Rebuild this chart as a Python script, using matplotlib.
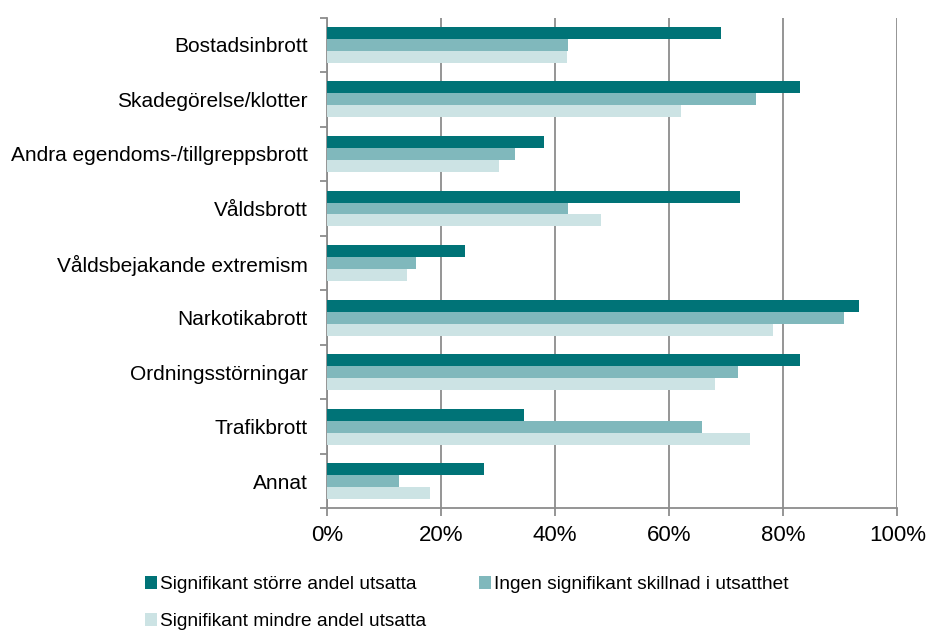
import numpy as np
import matplotlib.pyplot as plt
from matplotlib.patches import Patch
from matplotlib.ticker import FixedLocator, PercentFormatter

plt.rcParams['font.family'] = ['Liberation Sans', 'DejaVu Sans']

# Data (share in percent)
categories = ['Bostadsinbrott', 'Skadegörelse/klotter', 'Andra egendoms-/tillgreppsbrott',
              'Våldsbrott', 'Våldsbejakande extremism', 'Narkotikabrott',
              'Ordningsstörningar', 'Trafikbrott', 'Annat']
storre = [69.1, 82.9, 38.0, 72.5, 24.2, 93.3, 82.9, 34.6, 27.6]
ingen = [42.3, 75.2, 32.9, 42.3, 15.7, 90.7, 72.1, 65.8, 12.6]
mindre = [42.1, 62.1, 30.1, 48.1, 14.1, 78.2, 68.1, 74.2, 18.1]
series_labels = ['Signifikant större andel utsatta',
                 'Ingen signifikant skillnad i utsatthet',
                 'Signifikant mindre andel utsatta']
colors = ['#007377', '#80B8BC', '#CCE3E4']

fig = plt.figure(figsize=(9.26, 6.33), dpi=100)
ax = fig.add_axes([0.353, 0.197, 0.616, 0.775])

n = len(categories)
y = np.arange(n)
h = 0.22
for k, (vals, col) in enumerate(zip([storre, ingen, mindre], colors)):
    ax.barh(y + (k - 1) * h, vals, height=h, color=col, edgecolor='none', zorder=3)

ax.set_xlim(0, 100)
ax.set_ylim(n - 0.5, -0.5)
ax.xaxis.set_major_locator(FixedLocator([0, 20, 40, 60, 80, 100]))
ax.xaxis.set_major_formatter(PercentFormatter(decimals=0))
ax.grid(axis='x', color='#8c8c8c', linewidth=1.3, zorder=0)

# category boundaries get the tick marks, labels sit at the centres
ax.yaxis.set_major_locator(FixedLocator(np.arange(-0.5, n, 1.0)))
ax.yaxis.set_major_formatter(plt.NullFormatter())
ax.yaxis.set_minor_locator(FixedLocator(y))
ax.set_yticklabels(categories, minor=True)
ax.tick_params(axis='y', which='major', length=5, width=1.3, color='#8c8c8c', direction='out')
ax.tick_params(axis='y', which='minor', length=0, pad=14, labelsize=15)
ax.tick_params(axis='x', length=6, width=1.3, color='#8c8c8c', pad=6, labelsize=16)

for s in ['top', 'right']:
    ax.spines[s].set_visible(False)
for s in ['left', 'bottom']:
    ax.spines[s].set_color('#8c8c8c')
    ax.spines[s].set_linewidth(1.3)

# reorder so the legend reads row by row with two columns
order = [0, 2, 1]
handles = [Patch(facecolor=colors[i], edgecolor='none') for i in order]
labels = [series_labels[i] for i in order]
fig.legend(handles, labels, loc='lower left', bbox_to_anchor=(0.14, -0.02),
           ncol=2, frameon=False, fontsize=13.8, handlelength=0.65, handleheight=0.65,
           handletextpad=0.15, columnspacing=2.73, labelspacing=1.05, borderpad=0.3)

fig.savefig('out.png', dpi=100)
